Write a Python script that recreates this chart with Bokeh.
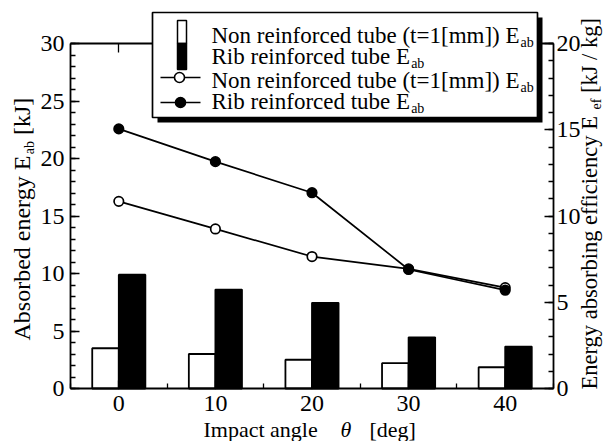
import math
from bokeh.plotting import figure
from bokeh.models import (Range1d, LinearAxis, FixedTicker, Label, BoxAnnotation,
                          Arrow, ColumnDataSource, CustomJSTickFormatter)
from bokeh.transform import dodge
from bokeh.embed import file_html
from bokeh.resources import INLINE

# ---------------- data ----------------
angles = [0, 10, 20, 30, 40]
non_eab = [3.5, 3.0, 2.5, 2.2, 1.85]      # absorbed energy, non reinforced [kJ]
rib_eab = [9.9, 8.6, 7.45, 4.45, 3.65]    # absorbed energy, rib reinforced [kJ]
non_eef = [10.85, 9.25, 7.65, 6.93, 5.85] # efficiency, non reinforced [kJ/kg]
rib_eef = [15.05, 13.15, 11.35, 6.9, 5.7] # efficiency, rib reinforced [kJ/kg]

x_lim = (-5, 45)
left_lim = (0, 30)
right_lim = (0, 20)
x_ticks = [0, 10, 20, 30, 40]
x_minor = [-5, 5, 15, 25, 35, 45]
left_ticks = [0, 5, 10, 15, 20, 25, 30]
right_ticks = [0, 5, 10, 15, 20]

legend_labels = ["Non reinforced tube (t=1[mm]) E",
                 "Rib reinforced tube E",
                 "Non reinforced tube (t=1[mm]) E",
                 "Rib reinforced tube E"]

FONT = "'Liberation Serif', 'Times New Roman', serif"
CW, CH = 613, 441
FL, FR, FT, FB = 70, 553, 43, 388   # axes box edges in canvas pixels

# ranges extended so that the axes box sits at FL..FR / FT..FB of a full-canvas frame
def ext(lo, hi, p_lo, p_hi, total):
    k = (hi - lo) / (p_hi - p_lo)
    return Range1d(lo - p_lo * k, hi + (total - p_hi) * k)

xr = ext(x_lim[0], x_lim[1], FL, FR, CW)
yr = ext(left_lim[0], left_lim[1], CH - FB, CH - FT, CH)
er = ext(right_lim[0], right_lim[1], CH - FB, CH - FT, CH)

p = figure(width=CW, height=CH, x_range=xr, y_range=yr,
           output_backend="svg", toolbar_location=None, min_border=0)
p.extra_y_ranges = {"eff": er}
p.grid.visible = False
p.outline_line_color = None
p.background_fill_color = "white"
p.border_fill_color = "white"

src = ColumnDataSource(dict(angle=angles, non_eab=non_eab, rib_eab=rib_eab,
                            non_eef=non_eef, rib_eef=rib_eef))

BW = 2.75
p.vbar(x=dodge("angle", -BW / 2), top="non_eab", width=BW, bottom=0, source=src,
       fill_color="white", line_color="black", line_width=1.8)
p.vbar(x=dodge("angle", BW / 2), top="rib_eab", width=BW, bottom=0, source=src,
       fill_color="black", line_color="black", line_width=1.8)

p.line("angle", "non_eef", source=src, y_range_name="eff", line_color="black", line_width=1.7)
p.line("angle", "rib_eef", source=src, y_range_name="eff", line_color="black", line_width=1.7)
p.scatter("angle", "non_eef", source=src, y_range_name="eff", marker="circle", size=9.5,
          fill_color="white", line_color="black", line_width=1.7)
p.scatter("angle", "rib_eef", source=src, y_range_name="eff", marker="circle", size=9.5,
          fill_color="black", line_color="black", line_width=1.7)

def style_axis(ax, tin=9, minin=5):
    ax.axis_line_color = "black"
    ax.axis_line_width = 1.8
    ax.major_tick_in = tin
    ax.major_tick_out = 0
    ax.minor_tick_in = minin
    ax.minor_tick_out = 0
    ax.major_tick_line_color = "black"
    ax.minor_tick_line_color = "black"
    ax.major_tick_line_width = 1.3
    ax.minor_tick_line_width = 1.3
    ax.major_label_text_font = FONT
    ax.major_label_text_font_size = "24px"
    ax.major_label_text_color = "black"
    ax.axis_label = None

xa = p.xaxis[0]
xa.ticker = FixedTicker(ticks=x_ticks, minor_ticks=x_minor)
style_axis(xa, 8, 5)
xa.major_label_standoff = 7
xa.bounds = x_lim
xa.fixed_location = left_lim[0]

ya = p.yaxis[0]
ya.ticker = FixedTicker(ticks=left_ticks, minor_ticks=list(range(0, 31)))
style_axis(ya)
ya.major_label_standoff = 6
ya.bounds = left_lim
ya.fixed_location = x_lim[0]

ra = LinearAxis(y_range_name="eff",
                ticker=FixedTicker(ticks=right_ticks, minor_ticks=list(range(0, 21))))
style_axis(ra)
ra.major_label_standoff = 3
ra.bounds = right_lim
ra.fixed_location = x_lim[1]
p.add_layout(ra, "right")

ta = LinearAxis(ticker=FixedTicker(ticks=x_ticks, minor_ticks=x_minor),
                formatter=CustomJSTickFormatter(code="return ''"))
style_axis(ta, 9, 0)
ta.major_label_text_font_size = "1px"
ta.bounds = x_lim
ta.fixed_location = left_lim[1]
p.add_layout(ta, "above")

# ---------------- screen-space helpers (frame == whole canvas) ----------------
W = {' ': 250, 'A': 722, 'E': 611, 'I': 333, 'J': 389, 'N': 722, 'R': 667, 'a': 444,
     'b': 500, 'c': 444, 'd': 500, 'e': 444, 'f': 333, 'g': 500, 'i': 278, 'k': 500,
     'l': 278, 'm': 778, 'n': 500, 'o': 500, 'p': 500, 'r': 333, 's': 389, 't': 278,
     'u': 500, 'y': 500, '(': 333, ')': 333, '[': 333, ']': 333, '=': 564, '1': 500,
     '/': 278}

def tw(s, size):
    return sum(W.get(c, 500) for c in s) * size / 1000.0

def sx(cx):
    return cx

def sy(cy):
    return CH - cy

def add_text(cx, cy, text, size, angle=0.0, style="normal"):
    # (cx, cy): wanted start of the baseline; shift compensates the renderer's baseline offset
    off = 0.3 * size
    if angle:
        cx = cx - off
    else:
        cy = cy - off
    p.add_layout(Label(x=sx(cx), y=sy(cy), x_units="screen", y_units="screen", text=text,
                       angle=angle, text_font=FONT, text_font_size=f"{size}px",
                       text_font_style=style, text_color="black",
                       text_baseline="alphabetic", text_align="left"))

def add_box(l, t, r, b, fill, lw=1.5, radius=0):
    p.add_layout(BoxAnnotation(left=sx(l), right=sx(r), top=sy(t), bottom=sy(b),
                               left_units="screen", right_units="screen",
                               top_units="screen", bottom_units="screen",
                               fill_color=fill, fill_alpha=1.0,
                               line_color="black" if lw > 0 else None, line_width=lw,
                               line_alpha=1.0, border_radius=radius))

def add_seg(x0, y0, x1, y1, lw=1.7):
    p.add_layout(Arrow(x_start=sx(x0), y_start=sy(y0), x_end=sx(x1), y_end=sy(y1),
                       start_units="screen", end_units="screen", start=None, end=None,
                       line_color="black", line_width=lw))

# ---------------- legend ----------------
add_box(157, 17, 542, 122, "black", lw=0)
add_box(152, 12, 537, 117, "white", lw=1.7)
add_box(177, 20, 186, 43, "white", lw=1.5)
add_box(177, 43, 186, 69, "black", lw=1.5)
add_seg(160, 77, 200, 77)
add_box(174, 72, 184, 82, "white", lw=1.6, radius=5)
add_seg(160, 102, 200, 102)
add_box(175, 97, 185, 107, "black", lw=1.6, radius=5)

LS = 23
for lbl, base in zip(legend_labels, [42, 63, 87, 108]):
    add_text(211, base, lbl, LS)
    add_text(211 + tw(lbl, LS) + 1, base + 4, "ab", 14)

# ---------------- axis titles ----------------
AS = 22
# bottom
add_text(203, 436, "Impact angle", AS)
add_text(340, 436, "\u03b8", AS, style="italic")
add_text(369, 436, "[deg]", AS)

# left (rotated, reading upward)
LA = 24
y0 = 340
s1 = "Absorbed energy E"
add_text(29, y0, s1, LA, angle=math.pi / 2)
y1 = y0 - tw(s1, LA) - 1
add_text(33, y1, "ab", 14, angle=math.pi / 2)
y2 = y1 - tw("ab", 14) - tw(" ", LA)
add_text(29, y2, "[kJ]", LA, angle=math.pi / 2)

# right (rotated, reading upward)
RA = 22.5
y0 = 389
s1 = "Energy absorbing efficiency E"
add_text(596, y0, s1, RA, angle=math.pi / 2)
y1 = y0 - tw(s1 + " ", RA)
add_text(600, y1, "ef", 14, angle=math.pi / 2)
y2 = y1 - tw("ef", 14) - tw(" ", RA)
add_text(596, y2, "[kJ / kg]", RA, angle=math.pi / 2)

open("out.html", "w").write(file_html(p, INLINE))
